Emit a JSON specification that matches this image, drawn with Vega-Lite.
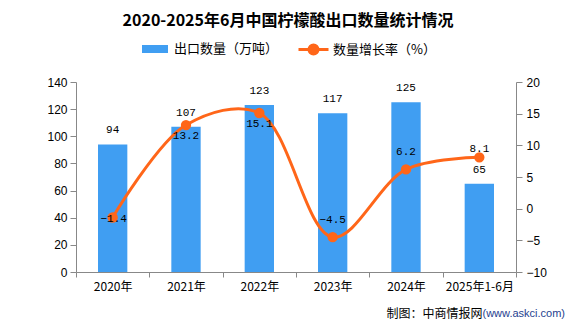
{
  "$schema": "https://vega.github.io/schema/vega-lite/v6.json",
  "width": 440,
  "height": 190,
  "autosize": {"type": "none"},
  "padding": {"left": 76, "top": 82, "right": 60, "bottom": 55},
  "background": "white",
  "title": {
    "text": "2020-2025年6月中国柠檬酸出口数量统计情况",
    "font": "Noto Sans CJK SC",
    "fontSize": 16,
    "fontWeight": "bold",
    "color": "#000000",
    "anchor": "middle",
    "dx": -8,
    "offset": 4
  },
  "data": {
    "values": [
      {"year": "2020年", "qty": 94, "growth": -1.4},
      {"year": "2021年", "qty": 107, "growth": 13.2},
      {"year": "2022年", "qty": 123, "growth": 15.1},
      {"year": "2023年", "qty": 117, "growth": -4.5},
      {"year": "2024年", "qty": 125, "growth": 6.2},
      {"year": "2025年1-6月", "qty": 65, "growth": 8.1}
    ]
  },
  "encoding": {
    "x": {
      "field": "year",
      "type": "nominal",
      "sort": null,
      "scale": {"paddingInner": 0, "paddingOuter": 0}
    }
  },
  "layer": [
    {
      "encoding": {
        "x": {
          "field": "year",
          "type": "nominal",
          "sort": null,
          "axis": {
            "orient": "bottom",
            "title": "制图：中商情报网",
            "titleX": 406,
            "titleY": 41,
            "titleAlign": "right",
            "titleBaseline": "middle",
            "titleFont": "Noto Sans CJK SC",
            "titleFontSize": 12,
            "titleFontWeight": "normal",
            "titleColor": "#000000",
            "labelAngle": 0,
            "labelFont": "Noto Sans CJK SC",
            "labelFontSize": 12,
            "labelColor": "#000000",
            "labelPadding": 4,
            "tickBand": "extent",
            "tickSize": 5,
            "tickColor": "#888888",
            "domainColor": "#888888",
            "grid": false
          }
        },
        "y": {
          "field": "qty",
          "type": "quantitative",
          "scale": {"domain": [0, 140]},
          "axis": {
            "orient": "left",
            "title": null,
            "values": [0, 20, 40, 60, 80, 100, 120, 140],
            "grid": false,
            "tickSize": 6,
            "labelPadding": 3,
            "tickColor": "#888888",
            "domainColor": "#888888",
            "labelFont": "Liberation Sans",
            "labelFontSize": 12,
            "labelColor": "#000000"
          }
        }
      },
      "layer": [
        {
          "mark": {"type": "bar", "width": {"band": 0.4}, "color": "#409EF2"},
          "encoding": {
            "fill": {
              "datum": "出口数量（万吨）",
              "type": "nominal",
              "scale": {"range": ["#409EF2"]},
              "legend": {
                "title": null,
                "orient": "none",
                "legendX": 66,
                "legendY": -46,
                "symbolType": "M-1,-0.31H1V0.31H-1Z",
                "symbolSize": 676,
                "symbolStrokeWidth": 0,
                "labelOffset": 6,
                "labelFont": "Noto Sans CJK SC",
                "labelFontSize": 13,
                "labelColor": "#000000"
              }
            }
          }
        },
        {
          "mark": {"type": "text", "dy": -14, "baseline": "middle", "font": "Liberation Mono", "fontSize": 11, "color": "#000000"},
          "encoding": {"text": {"field": "qty", "type": "quantitative"}}
        }
      ]
    },
    {
      "encoding": {
        "x": {
          "field": "year",
          "type": "nominal",
          "sort": null,
          "axis": {
            "orient": "bottom",
            "title": "(www.askci.com)",
            "titleX": 406,
            "titleY": 41,
            "titleAlign": "left",
            "titleBaseline": "middle",
            "titleFont": "Liberation Sans",
            "titleFontSize": 11,
            "titleFontWeight": "normal",
            "titleColor": "#1F3F8F",
            "labels": false,
            "ticks": false,
            "domain": false,
            "grid": false
          }
        },
        "y": {
          "field": "growth",
          "type": "quantitative",
          "scale": {"domain": [-10, 20]},
          "axis": {
            "orient": "right",
            "title": null,
            "values": [-10, -5, 0, 5, 10, 15, 20],
            "grid": false,
            "tickSize": 6,
            "labelPadding": 4,
            "tickColor": "#888888",
            "domainColor": "#888888",
            "labelFont": "Liberation Sans",
            "labelFontSize": 12,
            "labelColor": "#000000"
          }
        }
      },
      "layer": [
        {
          "mark": {
            "type": "line",
            "interpolate": "catmull-rom",
            "strokeWidth": 3,
            "point": {"filled": true, "size": 70, "color": "#FF6619"}
          },
          "encoding": {
            "stroke": {
              "datum": "数量增长率（%）",
              "type": "nominal",
              "scale": {"range": ["#FF6619"]},
              "legend": {
                "title": null,
                "orient": "none",
                "legendX": 221,
                "legendY": -49,
                "symbolType": "M-1,0H1M0.3,0A0.3,0.3,0,1,1,-0.3,0A0.3,0.3,0,1,1,0.3,0Z",
                "symbolSize": 900,
                "symbolStrokeWidth": 3,
                "symbolFillColor": "#FF6619",
                "labelOffset": 3,
                "labelFont": "Noto Sans CJK SC",
                "labelFontSize": 13,
                "labelColor": "#000000"
              }
            }
          }
        },
        {
          "transform": [{"filter": "datum.year === '2020年'"}],
          "mark": {"type": "text", "dy": 1, "dx": 1, "baseline": "middle", "font": "Liberation Mono", "fontSize": 11, "color": "#000000"},
          "encoding": {"text": {"field": "growth", "type": "quantitative", "format": ".1f"}}
        },
        {
          "transform": [{"filter": "datum.year === '2021年' || datum.year === '2022年'"}],
          "mark": {"type": "text", "dy": 11, "baseline": "middle", "font": "Liberation Mono", "fontSize": 11, "color": "#000000"},
          "encoding": {"text": {"field": "growth", "type": "quantitative", "format": ".1f"}}
        },
        {
          "transform": [{"filter": "datum.year === '2023年' || datum.year === '2024年'"}],
          "mark": {"type": "text", "dy": -17, "baseline": "middle", "font": "Liberation Mono", "fontSize": 11, "color": "#000000"},
          "encoding": {"text": {"field": "growth", "type": "quantitative", "format": ".1f"}}
        },
        {
          "transform": [{"filter": "datum.year === '2025年1-6月'"}],
          "mark": {"type": "text", "dy": -8, "baseline": "middle", "font": "Liberation Mono", "fontSize": 11, "color": "#000000"},
          "encoding": {"text": {"field": "growth", "type": "quantitative", "format": ".1f"}}
        }
      ]
    }
  ],
  "resolve": {"scale": {"y": "independent"}, "axis": {"x": "independent"}},
  "config": {"view": {"stroke": null}, "axis": {"labelFontWeight": "normal"}}
}
